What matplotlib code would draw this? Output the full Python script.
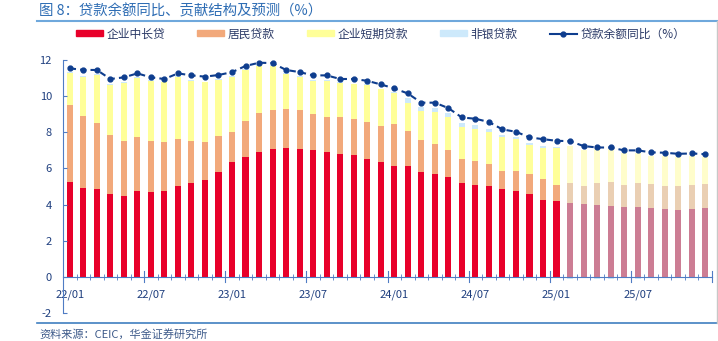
import numpy as np
import matplotlib
matplotlib.use("Agg")
import matplotlib.pyplot as plt
from matplotlib.lines import Line2D
from matplotlib.patches import Patch

plt.rcParams['font.family'] = ['Noto Sans CJK SC', 'DejaVu Sans']

# monthly, 22/01 .. 25/12 ; 25/02 onwards is forecast
months = [f"{y:02d}/{m:02d}" for y in range(22, 26) for m in range(1, 13)]
n_actual = 37

corp_long = [5.26, 4.93, 4.84, 4.58, 4.49, 4.76, 4.67, 4.74, 5.02, 5.19, 5.34, 5.78,
             6.35, 6.65, 6.90, 7.09, 7.13, 7.07, 7.00, 6.90, 6.79, 6.72, 6.55, 6.33,
             6.13, 6.13, 5.83, 5.70, 5.52, 5.19, 5.10, 5.02, 4.86, 4.76, 4.60, 4.25,
             4.19, 4.10, 4.02, 3.99, 3.95, 3.88, 3.89, 3.82, 3.73, 3.71, 3.73, 3.82]
household = [4.25, 3.97, 3.65, 3.25, 3.02, 2.96, 2.84, 2.72, 2.62, 2.32, 2.12, 2.01,
             1.64, 1.95, 2.16, 2.12, 2.14, 2.14, 1.99, 1.96, 2.03, 2.01, 2.03, 2.01,
             2.32, 1.94, 1.76, 1.65, 1.49, 1.31, 1.29, 1.20, 1.01, 1.11, 1.10, 1.14,
             0.91, 1.07, 1.02, 1.22, 1.29, 1.23, 1.32, 1.31, 1.31, 1.33, 1.35, 1.31]
corp_short = [1.79, 2.18, 2.66, 2.78, 3.23, 3.28, 3.31, 3.30, 3.40, 3.34, 3.30, 3.10,
              3.05, 2.85, 2.61, 2.46, 1.95, 1.87, 1.85, 1.98, 1.89, 1.92, 2.03, 2.03,
              1.70, 1.53, 1.58, 1.77, 1.81, 1.77, 1.77, 1.81, 1.85, 1.74, 1.61, 1.74,
              2.03, 2.10, 1.97, 1.84, 1.81, 1.72, 1.62, 1.55, 1.64, 1.57, 1.60, 1.48]
nonbank = [0.05, 0.05, 0.05, 0.05, 0.05, 0.05, 0.05, 0.05, 0.05, 0.05, 0.05, 0.05,
           0.05, 0.05, 0.05, 0.05, 0.05, 0.05, 0.05, 0.05, 0.05, 0.05, 0.05, 0.05,
           0.10, 0.28, 0.23, 0.24, 0.23, 0.26, 0.24, 0.17, 0.13, 0.11, 0.09, 0.11,
           0.03, -0.12, -0.03, -0.10, -0.12, -0.03, -0.12, -0.03, -0.03, -0.03, -0.03, -0.03]
loan_yoy = [11.54, 11.45, 11.45, 10.95, 11.04, 11.26, 11.04, 10.95, 11.26, 11.15, 11.08, 11.17,
            11.33, 11.67, 11.85, 11.83, 11.45, 11.33, 11.15, 11.15, 10.95, 10.95, 10.85, 10.65,
            10.43, 10.15, 9.64, 9.64, 9.34, 8.82, 8.75, 8.57, 8.16, 8.03, 7.72, 7.62,
            7.53, 7.51, 7.24, 7.16, 7.16, 7.00, 7.00, 6.89, 6.87, 6.81, 6.83, 6.79]

red, orange, yellow, lblue = '#E8002A', '#F2A97B', '#FFFF99', '#CDE9FB'
red_f, orange_f, yellow_f = '#CC7D94', '#EACFB3', '#FFFDCB'
navy = '#0E3D8E'
axis_blue = '#4F7CC4'
text_blue = '#1F3F7F'

x = np.arange(len(months))
a = np.array(corp_long)
b = np.array(household)
c = np.array(corp_short)
d = np.array(nonbank)
is_fc = x >= n_actual

fig = plt.figure(figsize=(7.18, 3.41), dpi=100)
ax = fig.add_axes([63/718, 0.082, 649/718, 0.742])

w = 0.45
ax.bar(x, a, w, color=np.where(is_fc, red_f, red))
ax.bar(x, b, w, bottom=a, color=np.where(is_fc, orange_f, orange))
ax.bar(x, c, w, bottom=a + b, color=np.where(is_fc, yellow_f, yellow))
ax.bar(x, d, w, bottom=np.where(d >= 0, a + b + c, 0), color=lblue)
ax.plot(x, loan_yoy, color=navy, lw=1.5, ls=(0, (3, 2)), marker='o', ms=3.5)

ax.set_xlim(-0.47, 47.45)
ax.set_ylim(-2, 12)
ax.set_yticks(range(-2, 13, 2))
ax.set_yticklabels([str(v) for v in range(-2, 13, 2)])
ax.tick_params(axis='y', direction='in', length=3, color=axis_blue,
               labelcolor=text_blue, labelsize=8, pad=8)

ax.set_xticks(x[::6])
ax.set_xticklabels(months[::6])
ax.set_xticks(np.arange(-0.5, 48, 1), minor=True)
ax.tick_params(axis='x', which='major', length=0, pad=9, labelcolor=text_blue, labelsize=8)
ax.tick_params(axis='x', which='minor', direction='inout', length=4, color=axis_blue)
# longer ticks at half-year boundaries
for xb in np.arange(5.5, 48, 6):
    ax.plot([xb, xb], [-0.3, 0.3], color=axis_blue, lw=0.8, clip_on=False)

for s in ['top', 'right']:
    ax.spines[s].set_visible(False)
ax.spines['bottom'].set_position(('data', 0))
ax.spines['bottom'].set_color(axis_blue)
ax.spines['left'].set_color(axis_blue)

handles = [Patch(color=red), Patch(color=orange), Patch(color=yellow), Patch(color=lblue),
           Line2D([], [], color=navy, lw=1.5, marker='o', ms=3.5)]
labels = ['企业中长贷', '居民贷款', '企业短期贷款', '非银贷款', '贷款余额同比（%）']
fig.legend(handles, labels, ncol=5, loc='center', bbox_to_anchor=(0.53, 1 - 34/341),
           frameon=False, fontsize=8.5, handlelength=2.3, handleheight=0.4,
           columnspacing=2.7, handletextpad=0.3, labelcolor='#2B3A67')

fig.text(39/718, 1 - 11/341, '图 8：贷款余额同比、贡献结构及预测（%）', color='#2E6DB4',
         fontsize=10.4, va='center')
fig.text(39/718, 1 - 334/341, '资料来源：CEIC，华金证券研究所', color='#3D5A8A',
         fontsize=8, va='center', style='italic')
fig.add_artist(Line2D([37/718, 1], [1 - 21/341] * 2, color='#6FA8DC', lw=1.5))
fig.add_artist(Line2D([37/718, 1], [1 - 323/341] * 2, color='#3F7FC0', lw=1.2))
fig.add_artist(Line2D([716.5/718] * 2, [1 - 21/341, 1 - 323/341], color='#C8C8C8', lw=1))

fig.savefig('out.png', dpi=100)
